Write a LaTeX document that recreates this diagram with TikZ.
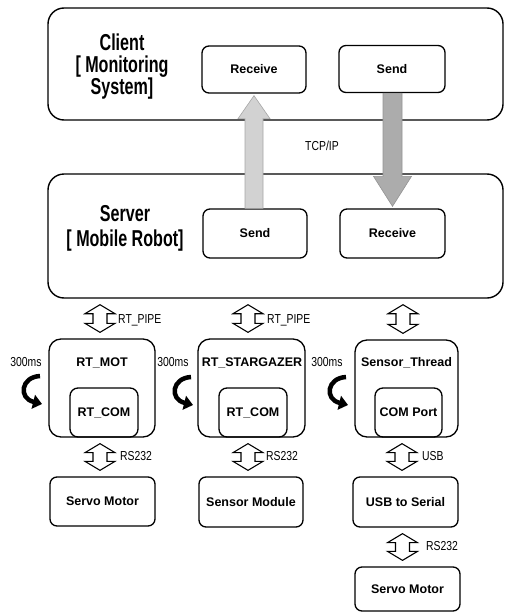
\documentclass[tikz,border=0pt]{standalone}
\usepackage{fontspec}
\setmainfont{Liberation Sans}
\newfontfamily\headfont{Liberation Sans}[FakeStretch=0.7]
\newfontfamily\thinfont{Liberation Sans}[FakeStretch=0.8]
\usetikzlibrary{calc,arrows.meta}
\newcommand\dblarr[3]{%
  \draw[hollow] let \p1=($(#2.north)+(#3,0)$), \p2=(#1.south) in
    (\x1,\y2-6pt) -- (\x1+15pt,\y2-15pt) -- (\x1+7pt,\y2-15pt) --
    (\x1+7pt,\y1+15pt) -- (\x1+15pt,\y1+15pt) -- (\x1,\y1+6pt) --
    (\x1-15pt,\y1+15pt) -- (\x1-7pt,\y1+15pt) -- (\x1-7pt,\y2-15pt) --
    (\x1-15pt,\y2-15pt) -- cycle;}
\newcommand\loopy[1]{%
  \begin{scope}[shift={#1}]
    \draw[line width=4.5pt,-{Triangle[length=9pt,width=14pt]}]
      (10,-14) .. controls (-9,-13) and (-12,8) .. (12,14);
  \end{scope}}
\begin{document}
\begin{tikzpicture}[x=1pt,y=-1pt,
  bigbox/.style={draw, line width=1.4pt, rounded corners=16pt, inner sep=0pt},
  smallbox/.style={draw, line width=1.3pt, rounded corners=7pt, inner sep=0pt,
    font=\bfseries\fontsize{12.5}{14}\selectfont},
  threadbox/.style={draw, line width=1.3pt, rounded corners=12pt, inner sep=0pt},
  innerbox/.style={draw, line width=1.3pt, rounded corners=8pt, inner sep=0pt,
    font=\bfseries\fontsize{12.5}{14}\selectfont},
  titletxt/.style={inner sep=0pt, font=\bfseries\fontsize{12.5}{14}\selectfont},
  headtxt/.style={align=center, inner sep=0pt},
  lbl/.style={font=\thinfont\fontsize{13}{14}\selectfont, inner sep=0pt},
  hollow/.style={draw, line width=1.1pt, fill=white, line join=miter},
]
\useasboundingbox (0,0) rectangle (504,613);

% Client
\node[bigbox, minimum width=455pt, minimum height=112pt] (client) at (275.5,64) {};
\node[headtxt, font=\headfont\bfseries\fontsize{23}{21.5}\selectfont] (ctext) at (122,67)
  {Client\\{[} Monitoring\\System{]}};
\node[smallbox, minimum width=104pt, minimum height=47pt] (crecv) at (254,69.5) {Receive};
\node[smallbox, minimum width=106pt, minimum height=47pt] (csend) at (392,69) {Send};

% Server
\node[bigbox, minimum width=455pt, minimum height=124pt] (server) at (275.5,236) {};
\node[headtxt, font=\headfont\bfseries\fontsize{23}{25}\selectfont] (stext) at (125,228)
  {Server\\{[} Mobile Robot{]}};
\node[smallbox, minimum width=104pt, minimum height=49pt] (ssend) at (255,233.5) {Send};
\node[smallbox, minimum width=105pt, minimum height=49pt] (srecv) at (392.5,233.5) {Receive};

% TCP/IP arrows
\filldraw[fill=gray!35, draw=gray!70, line width=0.6pt]
  let \p1=(ssend.north), \p2=(crecv.south) in
  (\x2,\y2-2pt) -- (\x2+16pt,\y2-25pt) -- (\x2+9pt,\y2-25pt) -- (\x2+9pt,\y1) --
  (\x2-9pt,\y1) -- (\x2-9pt,\y2-25pt) -- (\x2-16pt,\y2-25pt) -- cycle;
\filldraw[fill=gray!65, draw=gray!85, line width=0.6pt]
  let \p1=(csend.south), \p2=(srecv.north) in
  (\x2,\y2+2pt) -- (\x2+19pt,\y2+32pt) -- (\x2+9.5pt,\y2+32pt) -- (\x2+9.5pt,\y1) --
  (\x2-9.5pt,\y1) -- (\x2-9.5pt,\y2+32pt) -- (\x2-19pt,\y2+32pt) -- cycle;
\node[lbl] (tcp) at (322,146) {TCP/IP};

% Thread boxes
\node[threadbox, minimum width=106pt, minimum height=98pt] (mot) at (102,388) {};
\node[threadbox, minimum width=107pt, minimum height=98pt] (star) at (251.5,388) {};
\node[threadbox, minimum width=103pt, minimum height=97pt] (sens) at (406.5,388.5) {};
\node[titletxt] (tmot) at (102,363) {RT\_MOT};
\node[titletxt] (tstar) at (252,363) {RT\_STARGAZER};
\node[titletxt] (tsens) at (406.5,363) {Sensor\_Thread};
\node[innerbox, minimum width=68pt, minimum height=49pt] (com1) at (104,412.5) {RT\_COM};
\node[innerbox, minimum width=68pt, minimum height=49pt] (com2) at (253,412.5) {RT\_COM};
\node[innerbox, minimum width=67pt, minimum height=49pt] (com3) at (408.5,412.5) {COM Port};

% cycle arrows
\node[lbl] (ms1) at (26,362) {300ms};
\node[lbl] (ms2) at (173,362) {300ms};
\node[lbl] (ms3) at (327,362) {300ms};
\loopy{(30,390)}
\loopy{(181,391)}
\loopy{(336,391)}

% Bottom boxes
\node[smallbox, minimum width=105pt, minimum height=49pt] (servo1) at (102.5,501.5) {Servo Motor};
\node[smallbox, minimum width=104pt, minimum height=50pt] (sensmod) at (251,502) {Sensor Module};
\node[smallbox, minimum width=105pt, minimum height=50pt] (usb) at (405.5,502) {USB to Serial};
\node[smallbox, minimum width=105pt, minimum height=44pt] (servo2) at (407.5,589) {Servo Motor};

% double arrows
\dblarr{server}{mot}{-2}
\dblarr{server}{star}{-3.5}
\dblarr{server}{sens}{-3.5}
\dblarr{mot}{servo1}{-2.5}
\dblarr{star}{sensmod}{-3}
\dblarr{sens}{usb}{-3.5}
\dblarr{usb}{servo2}{-5}
\node[lbl, anchor=west] (pipe1) at (118,320) {RT\_PIPE};
\node[lbl, anchor=west] (pipe2) at (267,320) {RT\_PIPE};
\node[lbl, anchor=west] (rs1) at (120,456) {RS232};
\node[lbl, anchor=west] (rs2) at (266,456) {RS232};
\node[lbl, anchor=west] (usbl) at (422,456) {USB};
\node[lbl, anchor=west] (rs3) at (426,546) {RS232};
\end{tikzpicture}
\end{document}
